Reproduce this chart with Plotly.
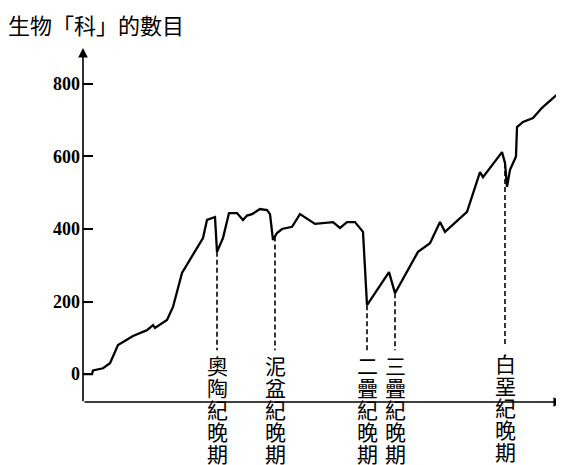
import numpy as np
import plotly.graph_objects as go

# time axis (arbitrary units, left -> right = older -> younger)
time = [0, 9, 10, 20, 27, 35, 50, 64, 70, 72, 84, 90, 99, 109, 120, 124, 132, 134,
        140, 146, 154, 160, 164, 169, 177, 184, 187, 190, 194, 199, 209, 217,
        232, 250, 257, 264, 272, 280, 284, 306, 312, 335, 347, 357, 362, 384,
        397, 400, 419, 422, 424, 427, 433, 434, 440, 450, 459, 470, 474]
families = [0, 0, 10, 16, 30, 80, 105, 121, 135, 127, 149, 185, 279, 323, 375, 425, 433, 337,
            375, 444, 444, 425, 437, 441, 455, 452, 441, 370, 389, 400, 406, 441,
            414, 419, 403, 419, 419, 392, 190, 281, 223, 337, 361, 419, 392, 447,
            557, 543, 612, 582, 516, 563, 600, 681, 695, 706, 734, 761, 770]

event_time = [134, 192, 284, 312, 422]
event_names = ["奧陶紀晚期", "泥盆紀晚期", "二疊紀晚期", "三疊紀晚期", "白堊紀晚期"]
ytick_vals = [0, 200, 400, 600, 800]
y_title = "生物「科」的數目"

Y_MIN, Y_MAX = -77, 899
X_MIN, X_MAX = 0, 480

# page body has an 8px margin, so the figure is drawn 8px smaller
W, H = 556, 457

fig = go.Figure()
fig.add_trace(go.Scatter(x=time, y=families, mode="lines",
                         line=dict(color="black", width=2.3), hoverinfo="skip"))

event_y = np.interp(event_time, time, families)
label_top = 44   # data units where labels start
dash_end = 66
for ex, ey, name in zip(event_time, event_y, event_names):
    top = dash_end + (9 if name == "白堊紀晚期" else 0)
    fig.add_shape(type="line", x0=ex, x1=ex, y0=ey, y1=top, xref="x", yref="y",
                  line=dict(color="black", width=1.6, dash="5px,3px"))
    lift = 11 if name == "白堊紀晚期" else 9
    for i, ch in enumerate(name):
        fig.add_annotation(x=ex, y=label_top, xref="x", yref="y", text=ch,
                           showarrow=False, xanchor="center", yanchor="top",
                           borderpad=0, yshift=lift - i * 22,
                           font=dict(family="Noto Sans CJK TC", size=21, color="black"))

# axes with arrows
fig.add_annotation(x=X_MIN, y=Y_MAX, ax=X_MIN, ay=Y_MIN - 2, xref="x", yref="y",
                   axref="x", ayref="y", text="", showarrow=True, arrowhead=2,
                   arrowsize=1.2, arrowwidth=1.6, arrowcolor="black")
fig.add_annotation(x=X_MAX, y=Y_MIN, ax=X_MIN, ay=Y_MIN, xref="x", yref="y",
                   axref="x", ayref="y", text="", showarrow=True, arrowhead=2,
                   arrowsize=1.2, arrowwidth=1.6, arrowcolor="black")

fig.update_layout(
    width=W, height=H,
    margin=dict(l=75, r=1, t=40, b=63),
    paper_bgcolor="white", plot_bgcolor="white",
    showlegend=False,
    title=dict(text=y_title, xref="container", yref="container", x=0,
               xanchor="left", y=1 - 18 / H, yanchor="middle",
               font=dict(family="Noto Sans CJK TC", size=22, color="black")),
    xaxis=dict(range=[X_MIN, X_MAX], showgrid=False, zeroline=False, showline=False,
               showticklabels=False, ticks=""),
    yaxis=dict(range=[Y_MIN, Y_MAX], showgrid=False, zeroline=False, showline=False,
               tickvals=ytick_vals, ticks="inside", ticklen=10, tickwidth=1.5,
               tickcolor="black", ticklabelstandoff=2,
               tickfont=dict(family="Liberation Serif", size=18, color="black",
                             weight="bold")),
)

fig.write_html("out.html")
